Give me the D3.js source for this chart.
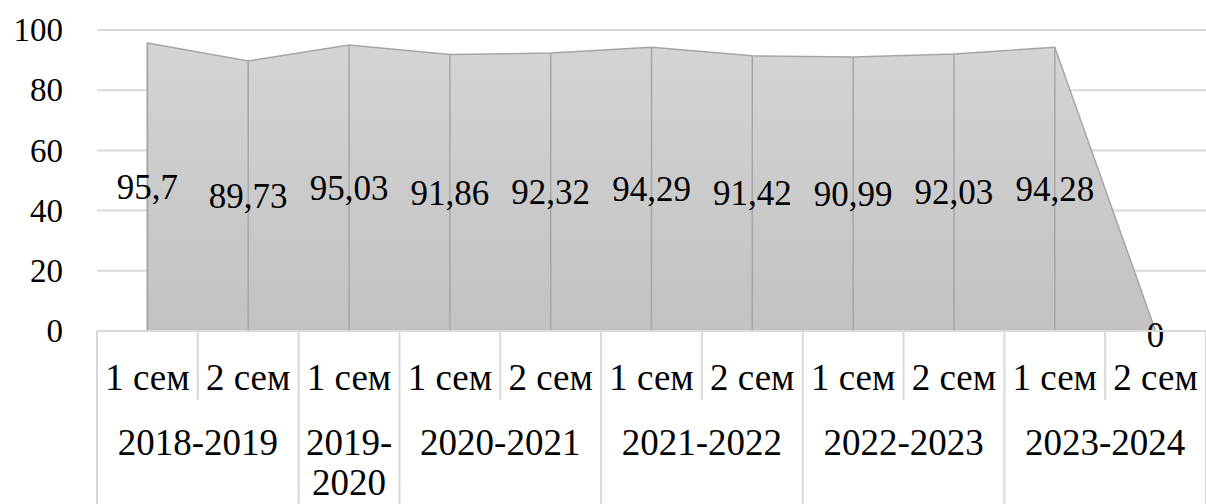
<!DOCTYPE html>
<html>
  <head>
    <meta charset="utf-8">
    <script src="https://cdn.jsdelivr.net/npm/d3@7"></script>
  </head>
  <body style="margin:0">
    <script type="text/javascript">
      var w = 1206;
      var h = 504;

      // Данные
      var semesters = ["1 сем", "2 сем", "1 сем", "1 сем", "2 сем", "1 сем", "2 сем", "1 сем", "2 сем", "1 сем", "2 сем"];
      var yearOf = ["2018-2019", "2018-2019", "2019-2020", "2020-2021", "2020-2021", "2021-2022", "2021-2022", "2022-2023", "2022-2023", "2023-2024", "2023-2024"];
      var values = [95.7, 89.73, 95.03, 91.86, 92.32, 94.29, 91.42, 90.99, 92.03, 94.28, 0];
      var yTicks = [0, 20, 40, 60, 80, 100];

      var mLeft = 97, mRight = 1206, mTop = 30, mBottom = 331;
      var serif = "Liberation Serif";

      var svg = d3.select("body").append("svg")
                  .attr("width", w)
                  .attr("height", h);

      var x = d3.scaleBand()
                .domain(d3.range(values.length))
                .range([mLeft, mRight])
                .padding(0);
      var y = d3.scaleLinear().domain([0, 100]).range([mBottom, mTop]);
      var cx = function(i){ return x(i) + x.bandwidth()/2; };

      // Градиент заливки
      var grad = svg.append("defs").append("linearGradient")
                    .attr("id", "fillg")
                    .attr("gradientUnits", "userSpaceOnUse")
                    .attr("x1", 0).attr("x2", 0)
                    .attr("y1", mTop).attr("y2", mBottom);
      grad.append("stop").attr("offset", "0%").attr("stop-color", "#d5d5d5");
      grad.append("stop").attr("offset", "100%").attr("stop-color", "#c2c2c2");

      // Сетка
      svg.selectAll("line.grid")
         .data(yTicks.filter(function(d){ return d > 0; }))
         .enter().append("line")
            .attr("class", "grid")
            .attr("x1", mLeft).attr("x2", mRight)
            .attr("y1", function(d){ return y(d); })
            .attr("y2", function(d){ return y(d); })
            .attr("stroke", "#d9d9d9")
            .attr("stroke-width", 2);

      // Подписи оси Y
      svg.selectAll("text.ytick")
         .data(yTicks)
         .enter().append("text")
            .attr("class", "ytick")
            .attr("x", 63)
            .attr("y", function(d){ return y(d); })
            .attr("dy", "0.34em")
            .attr("text-anchor", "end")
            .attr("font-family", serif)
            .attr("font-size", 33)
            .text(function(d){ return d; });

      // Область
      var area = d3.area()
                   .x(function(d, i){ return cx(i); })
                   .y0(mBottom)
                   .y1(function(d){ return y(d); });
      svg.append("path")
         .datum(values)
         .attr("d", area)
         .attr("fill", "url(#fillg)")
         .attr("stroke", "#a6a6a6")
         .attr("stroke-width", 1.5);

      // Вертикальные линии в точках
      svg.selectAll("line.drop")
         .data(values)
         .enter().append("line")
            .attr("class", "drop")
            .attr("x1", function(d, i){ return cx(i); })
            .attr("x2", function(d, i){ return cx(i); })
            .attr("y1", function(d){ return y(d); })
            .attr("y2", mBottom)
            .attr("stroke", "#a6a6a6")
            .attr("stroke-width", 1.5);

      // Подписи значений
      svg.selectAll("text.val")
         .data(values)
         .enter().append("text")
            .attr("class", "val")
            .attr("x", function(d, i){ return cx(i); })
            .attr("y", function(d){ return (y(d) + mBottom)/2 + (d === 0 ? 4 : 0); })
            .attr("dy", "0.34em")
            .attr("text-anchor", "middle")
            .attr("font-family", serif)
            .attr("font-size", 35)
            .text(function(d){ return String(d).replace(".", ","); });

      // Ось категорий (таблица)
      var axisColor = "#d9d9d9";
      svg.append("line")
         .attr("x1", mLeft).attr("x2", mRight)
         .attr("y1", mBottom).attr("y2", mBottom)
         .attr("stroke", axisColor).attr("stroke-width", 2);

      // Группы по годам
      var groups = [];
      yearOf.forEach(function(yr, i){
        if (!groups.length || groups[groups.length-1].year !== yr) {
          groups.push({year: yr, start: i, end: i});
        } else {
          groups[groups.length-1].end = i;
        }
      });

      // Разделители семестров
      svg.selectAll("line.semsep")
         .data(d3.range(values.length).filter(function(i){ return i > 0 && yearOf[i] === yearOf[i-1]; }))
         .enter().append("line")
            .attr("class", "semsep")
            .attr("x1", function(i){ return x(i); })
            .attr("x2", function(i){ return x(i); })
            .attr("y1", mBottom).attr("y2", 400)
            .attr("stroke", axisColor).attr("stroke-width", 2);

      // Разделители годов
      svg.selectAll("line.yrsep")
         .data(groups.map(function(g){ return g.start; }).concat([values.length]))
         .enter().append("line")
            .attr("class", "yrsep")
            .attr("x1", function(i){ return i < values.length ? x(i) : mRight; })
            .attr("x2", function(i){ return i < values.length ? x(i) : mRight; })
            .attr("y1", mBottom).attr("y2", h)
            .attr("stroke", axisColor).attr("stroke-width", 2);

      // Подписи семестров
      svg.selectAll("text.sem")
         .data(semesters)
         .enter().append("text")
            .attr("class", "sem")
            .attr("x", function(d, i){ return cx(i); })
            .attr("y", 390)
            .attr("text-anchor", "middle")
            .attr("font-family", serif)
            .attr("font-size", 37)
            .text(function(d){ return d; });

      // Подписи годов
      var yl = svg.selectAll("text.year")
         .data(groups)
         .enter().append("text")
            .attr("class", "year")
            .attr("y", 455)
            .attr("text-anchor", "middle")
            .attr("font-family", serif)
            .attr("font-size", 37);
      yl.each(function(g){
        var t = d3.select(this);
        var parts = g.end === g.start ? [g.year.split("-")[0] + "-", g.year.split("-")[1]] : [g.year];
        parts.forEach(function(p, k){
          t.append("tspan")
           .attr("x", (x(g.start) + x(g.end) + x.bandwidth())/2)
           .attr("dy", k === 0 ? 0 : 40)
           .text(p);
        });
      });
    </script>
  </body>
</html>
